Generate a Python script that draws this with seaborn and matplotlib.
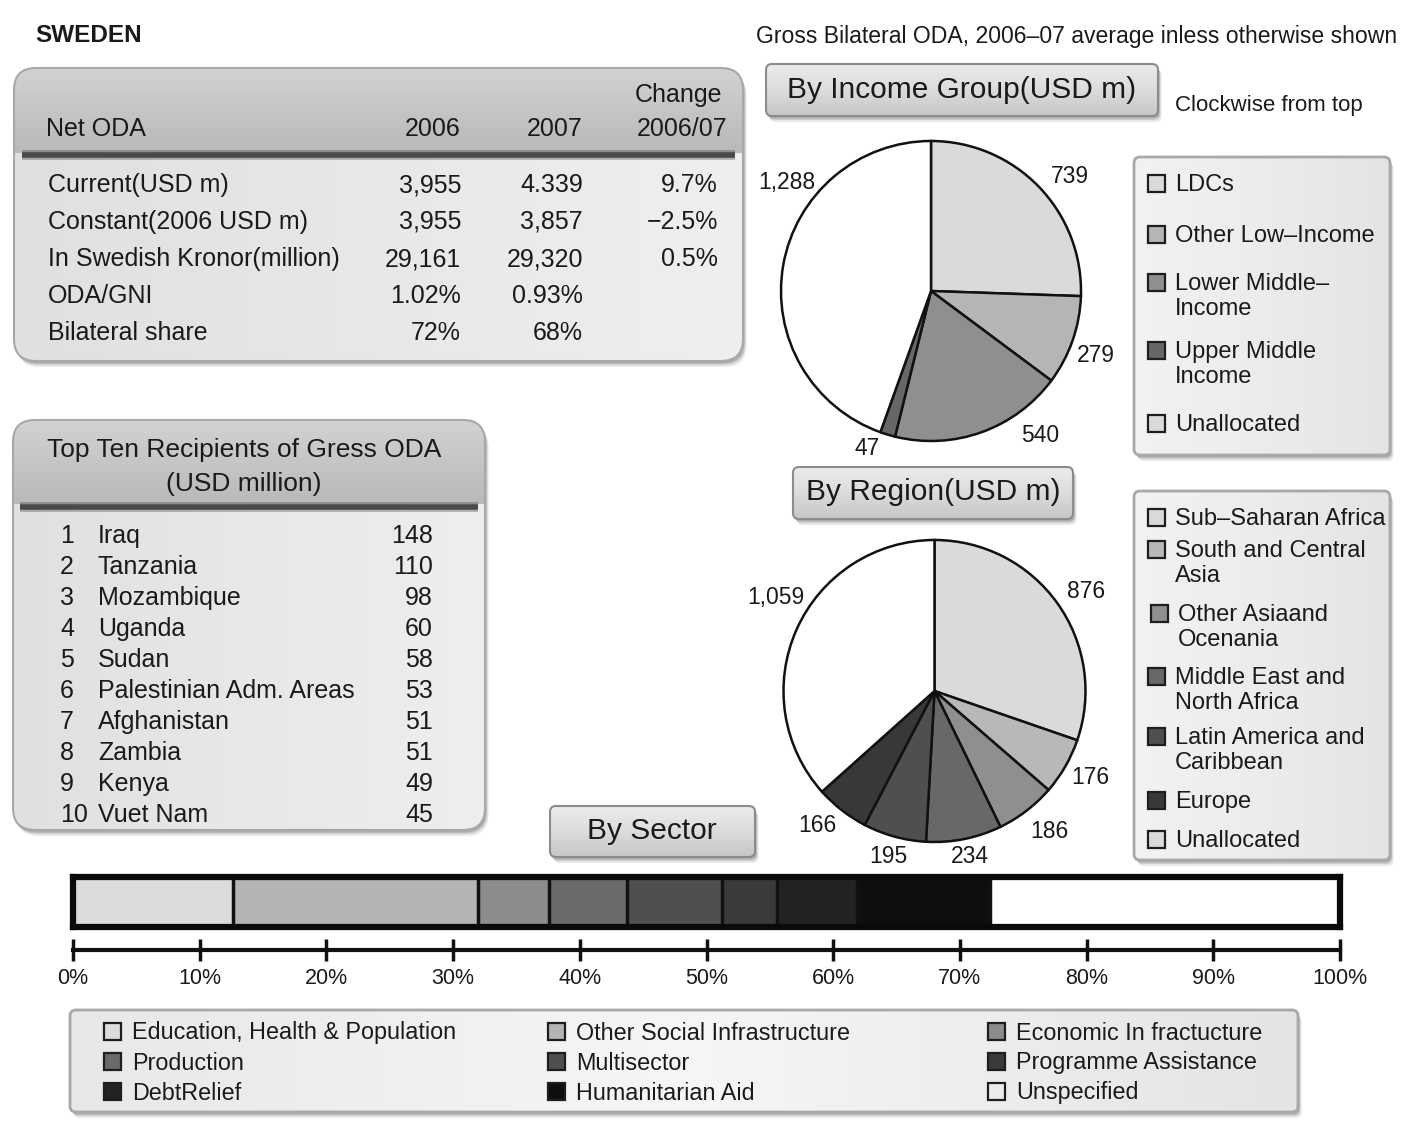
import numpy as np
import pandas as pd
import matplotlib
matplotlib.use("Agg")
import matplotlib.pyplot as plt
import seaborn as sns
from matplotlib.patches import FancyBboxPatch, Rectangle
from matplotlib.colors import LinearSegmentedColormap

# ---------------- DATA ----------------
title_left = "SWEDEN"
title_right = "Gross Bilateral ODA, 2006\u201307 average inless otherwise shown"

net_oda_cols = ["2006", "2007", "Change\n2006/07"]
net_oda_rows = ["Current(USD m)", "Constant(2006 USD m)", "In Swedish Kronor(million)",
                "ODA/GNI", "Bilateral share"]
net_oda_2006 = ["3,955", "3,955", "29,161", "1.02%", "72%"]
net_oda_2007 = ["4.339", "3,857", "29,320", "0.93%", "68%"]
net_oda_change = ["9.7%", "\u22122.5%", "0.5%", "", ""]

top_title = "Top Ten Recipients of Gress ODA\n(USD million)"
top_ranks = [1, 2, 3, 4, 5, 6, 7, 8, 9, 10]
top_names = ["Iraq", "Tanzania", "Mozambique", "Uganda", "Sudan",
             "Palestinian Adm. Areas", "Afghanistan", "Zambia", "Kenya", "Vuet Nam"]
top_values = [148, 110, 98, 60, 58, 53, 51, 51, 49, 45]

income_groups = ["LDCs", "Other Low\u2013Income", "Lower Middle\u2013\nIncome",
                 "Upper Middle\nIncome", "Unallocated"]
income_values = [739, 279, 540, 47, 1288]

regions = ["Sub\u2013Saharan Africa", "South and Central\nAsia", "Other Asiaand\nOcenania",
           "Middle East and\nNorth Africa", "Latin America and\nCaribbean", "Europe", "Unallocated"]
region_values = [876, 176, 186, 234, 195, 166, 1059]

sectors = ["Education, Health & Population", "Other Social Infrastructure",
           "Economic In fractucture", "Production", "Multisector", "Programme Assistance",
           "DebtRelief", "Humanitarian Aid", "Unspecified"]
sector_shares = [12.6, 19.4, 5.6, 6.1, 7.5, 4.4, 6.3, 10.5, 27.6]
sector_ticks = [0, 10, 20, 30, 40, 50, 60, 70, 80, 90, 100]

# ---------------- STYLE ----------------
income_colors = ["#dadada", "#b5b5b5", "#8f8f8f", "#676767", "#ffffff"]
income_legend_colors = ["#dadada", "#b5b5b5", "#8f8f8f", "#676767", "#dadada"]
region_colors = ["#dadada", "#b8b8b8", "#8f8f8f", "#686868", "#4f4f4f", "#383838", "#ffffff"]
region_legend_colors = ["#dadada", "#b8b8b8", "#8f8f8f", "#686868", "#4f4f4f", "#383838", "#dadada"]
sector_colors = ["#dcdcdc", "#b4b4b4", "#8c8c8c", "#6a6a6a", "#4f4f4f", "#3a3a3a",
                 "#222222", "#0e0e0e", "#ffffff"]
sector_legend_colors = sector_colors[:-1] + ["#ececec"]

sns.set_theme(style="white")
plt.rcParams["font.family"] = ["Liberation Sans", "DejaVu Sans"]

W, H = 1418, 1145
fig = plt.figure(figsize=(W / 100, H / 100), dpi=100)
fig.patch.set_facecolor("white")

bg = fig.add_axes([0, 0, 1, 1])
bg.set_xlim(0, W)
bg.set_ylim(H, 0)
bg.set_autoscale_on(False)
bg.axis("off")

TXT = "#1a1a1a"


def gbox(x0, y0, x1, y1, r, colors, horizontal=True, ec="#a8a8a8", lw=1.5,
         shadow=True, z=1):
    style = f"round,pad=0,rounding_size={r}"
    if shadow:
        for k, a in [(6, 0.18), (4, 0.3), (2.5, 0.45)]:
            sh = FancyBboxPatch((x0 + k * 0.6, y0 + k), x1 - x0, y1 - y0, boxstyle=style,
                                fc="#8a8a8a", ec="none", alpha=a, zorder=z - 0.5)
            bg.add_patch(sh)
    clip = FancyBboxPatch((x0, y0), x1 - x0, y1 - y0, boxstyle=style,
                          fc="none", ec="none", zorder=z)
    bg.add_patch(clip)
    g = np.linspace(0, 1, 256)
    img = g[None, :] if horizontal else g[:, None]
    cmap = LinearSegmentedColormap.from_list("g", colors)
    im = bg.imshow(img, extent=(x0, x1, y1, y0), cmap=cmap, aspect="auto",
                   zorder=z, interpolation="bicubic", vmin=0, vmax=1)
    im.set_clip_path(clip)
    edge = FancyBboxPatch((x0, y0), x1 - x0, y1 - y0, boxstyle=style,
                          fc="none", ec=ec, lw=lw, zorder=z + 0.3)
    bg.add_patch(edge)
    return clip


def band(clip, x0, y0, x1, y1, colors, z=1.1):
    g = np.linspace(0, 1, 128)
    cmap = LinearSegmentedColormap.from_list("b", colors)
    im = bg.imshow(g[:, None], extent=(x0, x1, y1, y0), cmap=cmap, aspect="auto",
                   zorder=z, interpolation="bicubic", vmin=0, vmax=1)
    im.set_clip_path(clip)


def t(x, y, s, fs, ha="left", **kw):
    bg.text(x, y + 2, s, fontsize=fs, ha=ha, va="center", zorder=3, color=TXT, **kw)


# titles
t(35, 33, title_left, 17.5, fontweight="bold")
t(1397, 34, title_right, 16.6, ha="right")

# ---------------- Net ODA table ----------------
c = gbox(14, 68, 743, 361, 22, ["#e0e0e0", "#e8e8e8", "#efefef"], horizontal=True)
band(c, 14, 68, 743, 153, ["#d2d2d2", "#b9b9b9"])
bg.plot([22, 735], [155, 155], color="#3a3a3a", lw=7, alpha=0.35, zorder=2, solid_capstyle="butt")
bg.plot([22, 735], [155, 155], color="#4a4a4a", lw=4, zorder=2.1, solid_capstyle="butt")
fs_t = 18
t(46, 127, "Net ODA", fs_t)
t(460, 127, net_oda_cols[0], fs_t, ha="right")
t(583, 127, net_oda_cols[1], fs_t, ha="right")
ch1, ch2 = net_oda_cols[2].split("\n")
t(722, 93, ch1, fs_t, ha="right")
t(727, 127, ch2, fs_t, ha="right")
row_y = [183, 220, 257, 294, 331]
for y, lab, a, b, d in zip(row_y, net_oda_rows, net_oda_2006, net_oda_2007, net_oda_change):
    t(48, y, lab, fs_t)
    t(461, y, a, fs_t, ha="right")
    t(583, y, b, fs_t, ha="right")
    t(718, y, d, fs_t, ha="right")

# ---------------- Top ten table ----------------
c2 = gbox(13, 420, 485, 830, 22, ["#e0e0e0", "#e8e8e8", "#eeeeee"], horizontal=True)
band(c2, 13, 420, 485, 504, ["#d2d2d2", "#b9b9b9"])
bg.plot([20, 478], [507, 507], color="#3a3a3a", lw=7, alpha=0.35, zorder=2, solid_capstyle="butt")
bg.plot([20, 478], [507, 507], color="#4a4a4a", lw=4, zorder=2.1, solid_capstyle="butt")
tl1, tl2 = top_title.split("\n")
t(244, 448, tl1, 19, ha="center")
t(244, 482, tl2, 19, ha="center")
for i, (rk, nm, v) in enumerate(zip(top_ranks, top_names, top_values)):
    y = 534 + 31 * i
    t(60, y, str(rk), fs_t)
    t(98, y, nm, fs_t)
    t(433, y, str(v), fs_t, ha="right")

# ---------------- Buttons ----------------
btn_cols = ["#ececec", "#dcdcdc", "#c6c6c6"]
gbox(766, 64, 1158, 116, 6, btn_cols, horizontal=False, ec="#8c8c8c", lw=1.5)
t(962, 88, "By Income Group(USD m)", 21.5, ha="center")
t(1175, 103, "Clockwise from top", 16)
gbox(793, 467, 1073, 519, 6, btn_cols, horizontal=False, ec="#8c8c8c", lw=1.5)
t(933, 490, "By Region(USD m)", 21.5, ha="center")
gbox(550, 806, 755, 857, 6, btn_cols, horizontal=False, ec="#8c8c8c", lw=1.5)
t(652, 829, "By Sector", 21.5, ha="center")

# ---------------- Legends ----------------
leg_cols = ["#f2f2f2", "#ececec", "#e4e4e4"]


def sq(x, y, col, s=17):
    bg.add_patch(Rectangle((x, y - s / 2), s, s, fc=col, ec="#1e1e1e", lw=1.6, zorder=3))


gbox(1134, 157, 1390, 455, 6, leg_cols, horizontal=True, ec="#a8a8a8", lw=2)
inc_y = [183, 234, 282, 350, 423]
for y, lab, col in zip(inc_y, income_groups, income_legend_colors):
    sq(1148, y, col)
    for j, line in enumerate(lab.split("\n")):
        t(1175, y + 25 * j, line, 17)

gbox(1134, 491, 1390, 860, 6, leg_cols, horizontal=True, ec="#a8a8a8", lw=2)
reg_y = [517, 549, 613, 676, 736, 800, 839]
for k, (y, lab, col) in enumerate(zip(reg_y, regions, region_legend_colors)):
    dx = 3 if k == 2 else 0
    sq(1148 + dx, y, col)
    for j, line in enumerate(lab.split("\n")):
        t(1175 + dx, y + 25 * j, line, 17)

gbox(70, 1010, 1298, 1112, 6, ["#e8e8e8", "#f6f6f6", "#e4e4e4"], horizontal=True, ec="#a8a8a8", lw=2)
col_x = [104, 548, 988]
row_yy = [1031, 1061, 1091]
for i, (lab, col) in enumerate(zip(sectors, sector_legend_colors)):
    x = col_x[i % 3]
    y = row_yy[i // 3]
    sq(x, y, col)
    t(x + 28, y, lab, 16.8)

# ---------------- Pies ----------------
L = 1.5


def pie_axes(cx, cy, r):
    S = 2 * L * r
    ax = fig.add_axes([(cx - S / 2) / W, (H - cy - S / 2) / H, S / W, S / H])
    ax.set_xlim(-L, L)
    ax.set_ylim(-L, L)
    ax.set_aspect("equal")
    ax.axis("off")
    ax.patch.set_alpha(0)
    return ax


def draw_pie(ax, vals, cols, label_pos):
    ax.pie(vals, colors=cols, startangle=90, counterclock=False, radius=1,
           wedgeprops=dict(edgecolor="#111", linewidth=1.8), center=(0, 0), frame=False)
    ax.set_xlim(-L, L)
    ax.set_ylim(-L, L)
    for v, (ang, d) in zip(vals, label_pos):
        a = np.deg2rad(ang)
        ax.text(d * np.cos(a), d * np.sin(a), f"{v:,}", fontsize=16.5,
                ha="center", va="center", color=TXT)


income_label_pos = [(39.6, 1.2), (-21.5, 1.18), (-53, 1.21), (-112, 1.13), (143, 1.2)]
region_label_pos = [(33.3, 1.2), (-29.2, 1.18), (-50.8, 1.2), (-78, 1.12),
                    (-105.5, 1.14), (-131, 1.18), (149.5, 1.22)]

ax_inc = pie_axes(931, 291, 150)
draw_pie(ax_inc, income_values, income_colors, income_label_pos)
ax_reg = pie_axes(934.5, 691, 151)
draw_pie(ax_reg, region_values, region_colors, region_label_pos)

# ---------------- Sector bar ----------------
x0b, x1b, y0b, y1b = 73, 1340, 877, 927
axb = fig.add_axes([x0b / W, (H - y1b) / H, (x1b - x0b) / W, (y1b - y0b) / H])
df = pd.DataFrame({"sector": sectors, "cum": np.cumsum(sector_shares), "row": "Sector"})
pal = dict(zip(sectors, sector_colors))
sns.barplot(data=df, x="cum", y="row", hue="sector", hue_order=sectors[::-1],
            palette=pal, dodge=False, saturation=1, width=1, orient="h",
            edgecolor="#111", linewidth=2.5, legend=False, ax=axb)
axb.set_xlim(0, 100)
axb.set_ylim(0.5, -0.5)
axb.set_xticks([])
axb.set_yticks([])
axb.set_xlabel("")
axb.set_ylabel("")
for s in axb.spines.values():
    s.set_visible(True)
    s.set_linewidth(4.5)
    s.set_color("#0a0a0a")

axs = fig.add_axes([x0b / W, (H - 950) / H, (x1b - x0b) / W, 8 / H])
axs.patch.set_alpha(0)
axs.set_xlim(0, 100)
axs.set_yticks([])
for k in ["top", "left", "right"]:
    axs.spines[k].set_visible(False)
axs.spines["bottom"].set_linewidth(3)
axs.spines["bottom"].set_color("#111")
axs.set_xticks(sector_ticks)
axs.set_xticklabels([f"{v}%" for v in sector_ticks], fontsize=15.5, color=TXT)
axs.tick_params(axis="x", direction="inout", length=16, width=2.5, color="#111", pad=5, bottom=True)

fig.savefig("out.png", dpi=100, facecolor="white")
